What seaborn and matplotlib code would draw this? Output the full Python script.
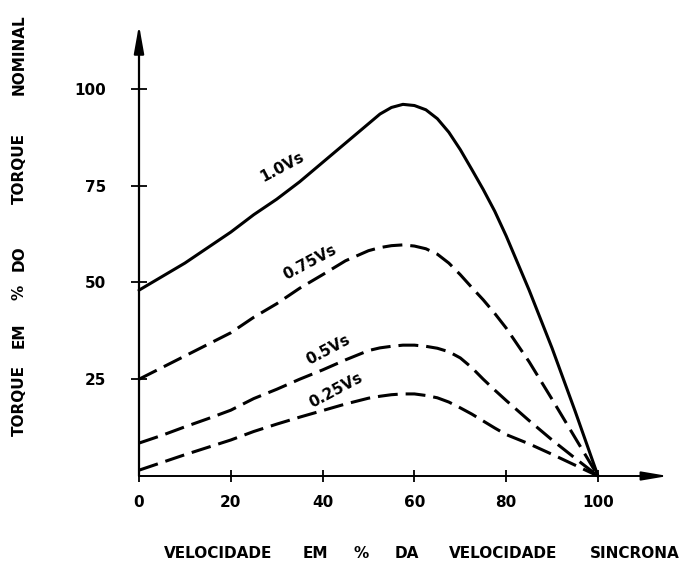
import numpy as np
import pandas as pd
import matplotlib
matplotlib.use("Agg")
import matplotlib.pyplot as plt
import seaborn as sns

# Speed as % of synchronous speed
speed = [0, 5, 10, 15, 20, 25, 30, 35, 40, 45, 50, 52.5, 55, 57.5, 60, 62.5,
         65, 67.5, 70, 72.5, 75, 77.5, 80, 85, 90, 95, 100]

# Torque (% of nominal) for each supply voltage level
torque_100 = [48, 51.5, 55, 59, 63, 67.5, 71.5, 76, 81, 86, 91, 93.5, 95.2, 96, 95.7, 94.6,
              92.3, 88.8, 84.3, 79.2, 74, 68.4, 62, 48, 33, 16.8, 0]
torque_075 = [25, 28, 31, 34, 37, 41, 44.5, 48.5, 52, 55.6, 58.2, 59, 59.5, 59.7, 59.4, 58.7,
              57.3, 55, 52, 48.7, 45.5, 42, 38.2, 29.5, 19.8, 9.9, 0]
torque_050 = [8.5, 10.5, 12.7, 14.8, 17, 20, 22.4, 25, 27.4, 30, 32.4, 33.1, 33.5, 33.8, 33.8, 33.5,
              33, 32.1, 30.5, 28, 25, 22.2, 19.5, 14.3, 9.3, 4.6, 0]
torque_025 = [1.5, 3.5, 5.5, 7.4, 9.3, 11.5, 13.4, 15.2, 16.9, 18.6, 20.1, 20.6, 21, 21.2, 21.2, 20.8,
              20.2, 19.1, 17.6, 16, 14.2, 12.4, 10.7, 8.3, 5.6, 2.8, 0]

curve_names = ["1.0Vs", "0.75Vs", "0.5Vs", "0.25Vs"]
curve_values = [torque_100, torque_075, torque_050, torque_025]

x_ticks = [0, 20, 40, 60, 80, 100]
x_tick_labels = ["0", "20", "40", "60", "80", "100"]
y_ticks = [25, 50, 75, 100]
y_tick_labels = ["25", "50", "75", "100"]

# label anchor (speed, torque) for each curve
label_pos = {"1.0Vs": (31.1, 79.9), "0.75Vs": (37.3, 55.3),
             "0.5Vs": (41.2, 32.6), "0.25Vs": (43.0, 22.2)}

x_title_words = ["VELOCIDADE", "EM", "%", "DA", "VELOCIDADE", "SINCRONA"]
y_title_words = ["TORQUE", "EM", "%", "DO", "TORQUE", "NOMINAL"]

df = pd.concat(
    [pd.DataFrame({"speed": speed, "torque": vals, "curve": name})
     for name, vals in zip(curve_names, curve_values)],
    ignore_index=True,
)

sns.set_theme(style="white")
plt.rcParams["font.family"] = ["DejaVu Sans"]

W, H = 683, 562
fig = plt.figure(figsize=(W / 100, H / 100), dpi=100)
fig.patch.set_facecolor("white")

ax_left, ax_bottom, ax_w, ax_h = 139, 86, 529, 451
ax = fig.add_axes([ax_left / W, ax_bottom / H, ax_w / W, ax_h / H])
ax.set_facecolor("white")

x_max = 115.25
y_max = 116.5

dash = (6.5, 2.6)
sns.lineplot(
    data=df, x="speed", y="torque", style="curve",
    dashes={"1.0Vs": "", "0.75Vs": dash, "0.5Vs": dash, "0.25Vs": dash},
    color="black", linewidth=2.2, legend=False, sort=False,
    estimator=None, ax=ax, clip_on=False,
)
for line in ax.lines:
    line.set_solid_joinstyle("round")
    line.set_dash_joinstyle("round")

ax.set_xlim(0, x_max)
ax.set_ylim(0, y_max)
for s in ax.spines.values():
    s.set_visible(False)

# axes drawn as arrows
ax.annotate("", xy=(0, y_max), xytext=(0, 0),
            arrowprops=dict(arrowstyle="-|>,head_length=1.4,head_width=0.25",
                            lw=1.6, color="black", shrinkA=0, shrinkB=0),
            annotation_clip=False)
ax.annotate("", xy=(x_max, 0), xytext=(0, 0),
            arrowprops=dict(arrowstyle="-|>,head_length=1.3,head_width=0.22",
                            lw=1.4, color="black", shrinkA=0, shrinkB=0),
            annotation_clip=False)

ax.set_xticks(x_ticks)
ax.set_xticklabels(x_tick_labels, fontweight="bold")
ax.set_yticks(y_ticks)
ax.set_yticklabels(y_tick_labels, fontweight="bold")
ax.tick_params(axis="x", direction="inout", length=9, width=1.3, color="black",
               pad=9, labelsize=11, labelcolor="black", bottom=True)
ax.tick_params(axis="y", direction="inout", length=11, width=1.3, color="black",
               pad=18, labelsize=11, labelcolor="black", left=True)
ax.set_xlabel("")
ax.set_ylabel("")
ax.grid(False)

for name in curve_names:
    x, y = label_pos[name]
    ax.text(x, y, name, rotation=28, rotation_mode="anchor",
            ha="center", va="center", fontsize=11, fontweight="bold",
            color="black")

# axis titles, word by word
x_word_centers = [218, 315, 361, 407, 503, 635]
for word, cx in zip(x_title_words, x_word_centers):
    fig.text(cx / W, 1 - 553 / H, word, ha="center", va="center",
             fontsize=11, fontweight="bold", color="black")

y_word_centers = [400, 335, 292, 258, 169, 55]
for word, cy in zip(y_title_words, y_word_centers):
    fig.text(19 / W, 1 - cy / H, word, ha="center", va="center", rotation=90,
             fontsize=11, fontweight="bold", color="black")

fig.savefig("out.png", dpi=100, facecolor="white")
